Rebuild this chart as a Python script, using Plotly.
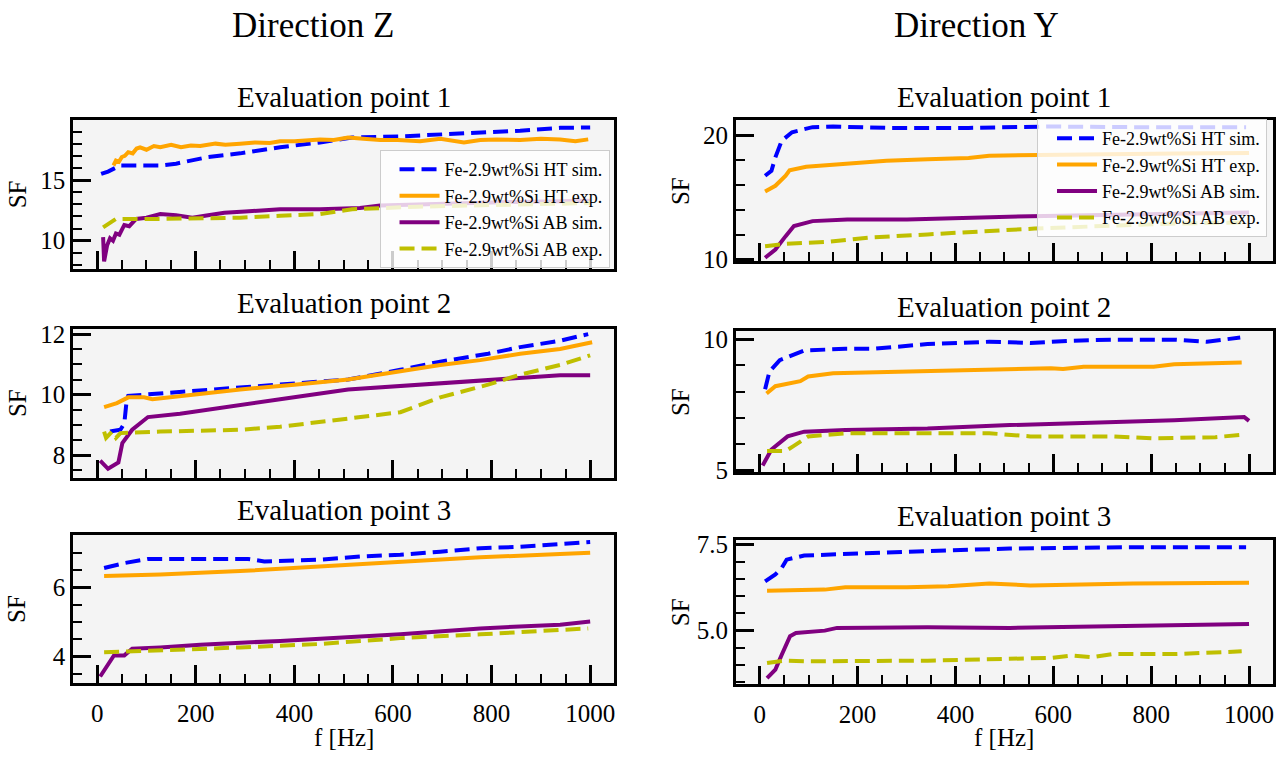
import plotly.graph_objects as go

# ---------------- data ----------------
# Direction Z, Evaluation point 1
z1_ht_sim_f = [8, 22, 47, 128, 160, 225, 290, 371, 452, 517, 615, 696, 777, 858, 939, 1000]
z1_ht_sim_v = [15.5, 15.7, 16.2, 16.2, 16.35, 16.9, 17.2, 17.7, 18.1, 18.5, 18.6, 18.75, 18.96, 19.07, 19.3, 19.33]
z1_ht_exp_f = [33, 38, 44, 50, 56, 63, 72, 80, 87, 100, 115, 128, 150, 170, 190, 209, 240, 260, 290, 320, 350, 371, 400, 430, 452, 480, 509, 540, 574, 610, 655, 696, 720, 744, 777, 810, 858, 900, 939, 970, 996]
z1_ht_exp_v = [16.2, 16.6, 16.5, 16.9, 17.0, 17.3, 17.2, 17.6, 17.7, 17.5, 17.8, 17.7, 17.9, 17.7, 17.85, 17.8, 18.0, 17.9, 18.0, 18.1, 18.05, 18.2, 18.2, 18.3, 18.35, 18.3, 18.5, 18.4, 18.3, 18.3, 18.2, 18.4, 18.25, 18.1, 18.3, 18.35, 18.3, 18.4, 18.35, 18.2, 18.35]
z1_ab_sim_f = [12, 14, 20, 26, 32, 38, 45, 55, 65, 79, 100, 128, 160, 193, 225, 258, 300, 371, 452, 533, 574, 650, 750, 850, 1000]
z1_ab_sim_v = [10.3, 8.3, 9.6, 10.2, 10.0, 10.6, 10.5, 11.3, 11.2, 11.8, 11.9, 12.2, 12.1, 11.9, 12.1, 12.3, 12.4, 12.6, 12.6, 12.7, 12.9, 13.0, 13.1, 13.2, 13.3]
z1_ab_exp_f = [12, 38, 128, 209, 290, 371, 452, 517, 574, 650, 750, 850, 1000]
z1_ab_exp_v = [11.1, 11.8, 11.8, 11.85, 11.9, 12.05, 12.2, 12.6, 12.7, 12.8, 12.9, 13.0, 13.1]

# Direction Z, Evaluation point 2
z2_ht_sim_f = [26, 47, 55, 59, 63, 95, 209, 371, 509, 615, 696, 793, 858, 939, 996]
z2_ht_sim_v = [8.78, 8.84, 9.05, 9.69, 9.96, 10.0, 10.12, 10.33, 10.5, 10.82, 11.09, 11.35, 11.57, 11.78, 12.0]
z2_ht_exp_f = [14, 40, 63, 95, 112, 168, 290, 400, 509, 615, 696, 777, 858, 939, 1004]
z2_ht_exp_v = [9.59, 9.72, 9.91, 9.91, 9.85, 9.96, 10.17, 10.33, 10.5, 10.77, 10.98, 11.14, 11.35, 11.51, 11.73]
z2_ab_sim_f = [6, 22, 43, 51, 71, 103, 168, 290, 371, 509, 615, 777, 858, 939, 1000]
z2_ab_sim_v = [7.82, 7.55, 7.76, 8.4, 8.84, 9.26, 9.37, 9.64, 9.85, 10.17, 10.28, 10.44, 10.55, 10.64, 10.64]
z2_ab_exp_f = [14, 18, 30, 38, 47, 128, 290, 371, 509, 615, 696, 793, 858, 939, 1000]
z2_ab_exp_v = [8.78, 8.57, 8.78, 8.57, 8.73, 8.78, 8.84, 8.94, 9.21, 9.42, 9.91, 10.33, 10.66, 10.98, 11.3]

# Direction Z, Evaluation point 3
z3_ht_sim_f = [14, 55, 103, 209, 306, 339, 452, 533, 615, 696, 777, 858, 939, 1000]
z3_ht_sim_v = [6.56, 6.70, 6.82, 6.82, 6.82, 6.75, 6.80, 6.89, 6.94, 7.03, 7.13, 7.17, 7.25, 7.31]
z3_ht_exp_f = [14, 128, 290, 452, 615, 777, 939, 1000]
z3_ht_exp_v = [6.33, 6.37, 6.47, 6.61, 6.75, 6.87, 6.96, 7.0]
z3_ab_sim_f = [6, 12, 34, 55, 71, 128, 209, 371, 615, 777, 939, 1000]
z3_ab_sim_v = [3.42, 3.56, 4.03, 4.03, 4.22, 4.26, 4.34, 4.45, 4.64, 4.81, 4.92, 5.01]
z3_ab_exp_f = [14, 128, 290, 452, 615, 777, 939, 996]
z3_ab_exp_v = [4.12, 4.17, 4.26, 4.36, 4.53, 4.64, 4.75, 4.81]

# Direction Y, Evaluation point 1
y1_ht_sim_f = [11, 24, 32, 45, 66, 108, 150, 259, 427, 595, 763, 994]
y1_ht_sim_v = [16.76, 17.16, 18.24, 19.59, 20.27, 20.68, 20.73, 20.62, 20.62, 20.73, 20.68, 20.68]
y1_ht_exp_f = [11, 32, 53, 61, 95, 179, 259, 343, 427, 469, 553, 700, 850, 1000]
y1_ht_exp_v = [15.49, 15.95, 16.76, 17.2, 17.49, 17.76, 17.97, 18.1, 18.2, 18.38, 18.43, 18.5, 18.55, 18.6]
y1_ab_sim_f = [11, 32, 53, 70, 108, 179, 301, 427, 553, 700, 850, 1000]
y1_ab_sim_v = [10.14, 10.81, 11.89, 12.7, 13.1, 13.24, 13.24, 13.38, 13.5, 13.6, 13.7, 13.8]
y1_ab_exp_f = [11, 53, 137, 221, 343, 469, 562, 700, 850, 1000]
y1_ab_exp_v = [11.08, 11.27, 11.43, 11.76, 12.03, 12.3, 12.5, 12.7, 12.9, 13.0]

# Direction Y, Evaluation point 2
y2_ht_sim_f = [11, 20, 41, 91, 175, 230, 343, 469, 511, 553, 637, 721, 847, 914, 982]
y2_ht_sim_v = [8.09, 8.77, 9.2, 9.57, 9.63, 9.63, 9.81, 9.9, 9.88, 9.85, 9.94, 9.98, 9.98, 9.9, 10.06]
y2_ht_exp_f = [14, 32, 83, 99, 150, 259, 427, 595, 620, 662, 805, 847, 985]
y2_ht_exp_v = [7.93, 8.21, 8.4, 8.58, 8.7, 8.74, 8.83, 8.89, 8.86, 8.95, 8.95, 9.04, 9.11]
y2_ab_sim_f = [6, 24, 57, 91, 175, 343, 511, 679, 847, 990, 1000]
y2_ab_sim_v = [5.19, 5.8, 6.3, 6.48, 6.54, 6.6, 6.73, 6.81, 6.91, 7.04, 6.89]
y2_ab_exp_f = [15, 53, 69, 99, 175, 259, 469, 553, 721, 805, 931, 985]
y2_ab_exp_v = [5.74, 5.74, 5.93, 6.3, 6.42, 6.42, 6.42, 6.3, 6.3, 6.23, 6.27, 6.36]

# Direction Y, Evaluation point 3
y3_ht_sim_f = [11, 32, 45, 55, 91, 175, 343, 511, 763, 994]
y3_ht_sim_v = [6.43, 6.63, 6.82, 7.06, 7.18, 7.23, 7.31, 7.38, 7.42, 7.42]
y3_ht_exp_f = [15, 133, 175, 301, 385, 427, 469, 553, 637, 763, 1000]
y3_ht_exp_v = [6.16, 6.19, 6.26, 6.26, 6.29, 6.34, 6.37, 6.31, 6.34, 6.37, 6.39]
y3_ab_sim_f = [15, 32, 45, 62, 74, 133, 158, 343, 511, 763, 1000]
y3_ab_sim_v = [3.62, 3.87, 4.3, 4.84, 4.93, 5.0, 5.08, 5.1, 5.08, 5.13, 5.19]
y3_ab_exp_f = [15, 49, 91, 343, 595, 637, 679, 721, 847, 985]
y3_ab_exp_v = [4.06, 4.13, 4.11, 4.13, 4.21, 4.28, 4.23, 4.32, 4.32, 4.4]

series_names = ["Fe-2.9wt%Si HT sim.", "Fe-2.9wt%Si HT exp.", "Fe-2.9wt%Si AB sim.", "Fe-2.9wt%Si AB exp."]
series_colors = ["#0000ff", "#ffa500", "#800080", "#bfbf00"]
series_dash = ["15px,7px", "solid", "solid", "15px,7px"]

column_titles = ["Direction Z", "Direction Y"]
panel_titles = ["Evaluation point 1", "Evaluation point 2", "Evaluation point 3"]
x_label = "f [Hz]"
y_label = "SF"

x_ticks = [0, 200, 400, 600, 800, 1000]

# ---------------- figure ----------------
FONT = "Liberation Serif, Times New Roman, serif"
W, H = 1286, 760

panels = [
    # (axis suffix, series data, y range, dtick, minor dtick, tickformat)
    ("", [(z1_ht_sim_f, z1_ht_sim_v), (z1_ht_exp_f, z1_ht_exp_v), (z1_ab_sim_f, z1_ab_sim_v), (z1_ab_exp_f, z1_ab_exp_v)],
     [7.7, 19.95], 5, 1, None),
    ("2", [(y1_ht_sim_f, y1_ht_sim_v), (y1_ht_exp_f, y1_ht_exp_v), (y1_ab_sim_f, y1_ab_sim_v), (y1_ab_exp_f, y1_ab_exp_v)],
     [9.87, 21.26], 10, 2, None),
    ("3", [(z2_ht_sim_f, z2_ht_sim_v), (z2_ht_exp_f, z2_ht_exp_v), (z2_ab_sim_f, z2_ab_sim_v), (z2_ab_exp_f, z2_ab_exp_v)],
     [7.26, 12.18], 2, 0.5, None),
    ("4", [(y2_ht_sim_f, y2_ht_sim_v), (y2_ht_exp_f, y2_ht_exp_v), (y2_ab_sim_f, y2_ab_sim_v), (y2_ab_exp_f, y2_ab_exp_v)],
     [4.94, 10.31], 5, 1, None),
    ("5", [(z3_ht_sim_f, z3_ht_sim_v), (z3_ht_exp_f, z3_ht_exp_v), (z3_ab_sim_f, z3_ab_sim_v), (z3_ab_exp_f, z3_ab_exp_v)],
     [3.23, 7.52], 2, 0.5, None),
    ("6", [(y3_ht_sim_f, y3_ht_sim_v), (y3_ht_exp_f, y3_ht_exp_v), (y3_ab_sim_f, y3_ab_sim_v), (y3_ab_exp_f, y3_ab_exp_v)],
     [3.46, 7.64], 2.5, 0.5, ".1f"),
]

# pixel boxes of the plot areas: (left, right, top, bottom)
col_x = [(73.3, 614.8), (736.5, 1274.0)]
row_y = {
    0: [(115, 267.7), (329.3, 482.3), (541, 693.3)],
    1: [(115, 260), (331.7, 476.7), (546, 694)],
}

fig = go.Figure()
layout = dict(
    width=W, height=H,
    margin=dict(l=0, r=0, t=0, b=0),
    paper_bgcolor="white",
    plot_bgcolor="#f4f4f4",
    font=dict(family=FONT, size=25, color="black"),
    showlegend=True,
)

annotations = []
for i, (suf, data, yr, dt, mdt, tf) in enumerate(panels):
    col = i % 2
    row = i // 2
    xl, xr = col_x[col]
    yt, yb = row_y[col][row]
    xa = "xaxis" + suf
    ya = "yaxis" + suf
    xref = "x" + suf
    yref = "y" + suf
    layout[xa] = dict(
        domain=[xl / W, xr / W], anchor=yref, range=[-48.6, 1049],
        tickmode="array", tickvals=x_ticks, ticktext=[str(t) for t in x_ticks],
        showticklabels=(row == 2), ticks="inside", ticklen=18, tickwidth=3, tickcolor="black",
        minor=dict(dtick=50, tick0=0, ticks="inside", ticklen=9, tickwidth=2, tickcolor="black", showgrid=False),
        showline=True, linewidth=3, linecolor="black", mirror=True,
        showgrid=False, zeroline=False, tickfont=dict(size=25), ticklabelstandoff=6,
    )
    yax = dict(
        domain=[1 - yb / H, 1 - yt / H], anchor=xref, range=yr,
        dtick=dt, tick0=0, ticks="inside", ticklen=18, tickwidth=3, tickcolor="black",
        minor=dict(dtick=mdt, tick0=0, ticks="inside", ticklen=9, tickwidth=2, tickcolor="black", showgrid=False),
        showline=True, linewidth=3, linecolor="black", mirror=True,
        showgrid=False, zeroline=False, tickfont=dict(size=25),
    )
    if tf:
        yax["tickformat"] = tf
    layout[ya] = yax

    for k, (fx, fv) in enumerate(data):
        fig.add_trace(go.Scatter(
            x=fx, y=fv, xaxis=xref, yaxis=yref, mode="lines",
            name=series_names[k],
            line=dict(color=series_colors[k], width=4, dash=series_dash[k]),
            showlegend=(row == 0),
            legend="legend" if col == 0 else "legend2",
        ))

    # panel title
    title_y = {0: [91, 303, 516], 1: [91, 307, 522]}[col][row]
    annotations.append(dict(text=panel_titles[row], x=(xl + xr) / 2 / W, y=1 - title_y / H,
                            xref="paper", yref="paper", showarrow=False,
                            xanchor="center", yanchor="middle", font=dict(size=29)))
    # y label
    annotations.append(dict(text=y_label, x=(17 if col == 0 else 681) / W, y=1 - (yt + yb) / 2 / H,
                            xref="paper", yref="paper", showarrow=False, textangle=-90,
                            xanchor="center", yanchor="middle", font=dict(size=25)))
    if row == 2:
        annotations.append(dict(text=x_label, x=(xl + xr) / 2 / W, y=1 - 749 / H,
                                xref="paper", yref="paper", showarrow=False,
                                xanchor="center", yanchor="middle", font=dict(size=25)))

for c, t in enumerate(column_titles):
    annotations.append(dict(text=t, x=(313 if c == 0 else 977) / W, y=1 - 18 / H,
                            xref="paper", yref="paper", showarrow=False,
                            xanchor="center", yanchor="middle", font=dict(size=35)))

layout["annotations"] = annotations
legend_common = dict(bgcolor="rgba(255,255,255,0.8)", bordercolor="#cccccc", borderwidth=1,
                     font=dict(family=FONT, size=18), xanchor="right", yanchor="top",
                     traceorder="normal", itemwidth=40, indentation=14)
layout["legend"] = dict(x=610 / W, y=1 - 146 / H, **legend_common)
layout["legend2"] = dict(x=1268 / W, y=1 - 114 / H, **legend_common)

fig.update_layout(**layout)
fig.write_html("out.html")
